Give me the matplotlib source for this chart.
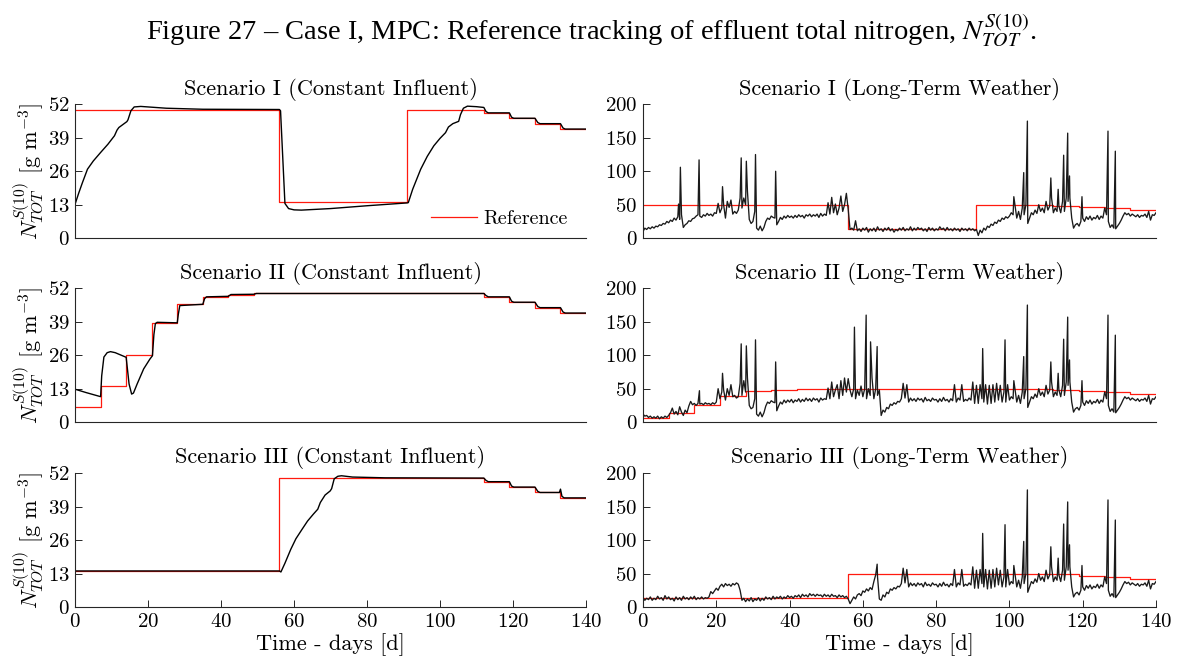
import numpy as np
import matplotlib
matplotlib.use('Agg')
import matplotlib.pyplot as plt

plt.rcParams['font.family'] = ['cmr10', 'DejaVu Serif']
plt.rcParams['mathtext.fontset'] = 'cm'
plt.rcParams['axes.formatter.use_mathtext'] = True
plt.rcParams['axes.unicode_minus'] = False

# --- Reference set-points (step changes) ---
ref1_t = [0, 56, 91, 112, 119, 126, 133]
ref1_v = [50, 14, 50, 48.7, 46.6, 44.5, 42.4]
ref2_t = [0, 7, 14, 21, 28, 35, 42, 49, 112, 119, 126, 133]
ref2_v = [6, 14, 26, 38.5, 45.8, 48.7, 49.6, 50, 48.7, 46.6, 44.5, 42.4]
ref3_t = [0, 56, 112, 119, 126, 133]
ref3_v = [14, 50, 48.7, 46.6, 44.5, 42.4]

# --- Constant influent responses ---
c1_t = [0, 1, 2, 3.4, 5, 7, 9, 10.8, 11.5, 12, 14.2, 14.5, 15.3, 16.2, 18, 25, 35, 56,
        56.3, 57.5, 58.5, 60, 62, 70, 80, 91, 91.3, 92.5, 94.7, 96.5, 98.3, 100, 101.5,
        102.3, 103.5, 105.1, 105.6, 106.4, 107.5, 110, 112, 112.6, 113.2, 119, 119.6,
        120.2, 126, 126.8, 127.4, 133, 133.7, 134.3, 140]
c1_v = [13.2, 17.5, 21.5, 26.8, 30.0, 33.3, 36.5, 39.8, 42, 43, 45.3, 46, 49.5, 51.0, 51.2,
        50.5, 50.1, 50.0, 49.5, 13.5, 11.5, 11.0, 10.9, 11.5, 12.6, 13.7, 13.8, 19, 26.8,
        31.8, 35.9, 38.8, 41, 43.2, 44.5, 45.4, 48, 50.5, 51.3, 51.1, 50.8, 49.2, 48.7,
        48.7, 47, 46.6, 46.6, 44.9, 44.5, 44.5, 42.8, 42.4, 42.4]
c2_t = [0, 3, 7, 7.3, 7.9, 8.8, 9.7, 11, 14, 14.4, 14.8, 15.5, 16, 17, 18.8, 20.5, 21.2,
        21.6, 22, 22.5, 28, 28.3, 28.7, 35, 35.5, 36, 42, 42.7, 49, 49.7, 112, 112.6,
        113.2, 119, 119.6, 120.2, 126, 126.8, 127.4, 133, 133.7, 134.3, 140]
c2_v = [12.8, 11.5, 9.9, 18, 25.3, 27, 27.4, 27, 25.2, 20, 14.8, 10.9, 11.3, 14.8, 20.7,
        24.5, 25.8, 34, 38.3, 38.8, 38.6, 42, 45.3, 45.8, 48, 48.7, 48.9, 49.6, 49.7, 50.0,
        50.0, 49.2, 48.7, 48.7, 47, 46.6, 46.6, 44.9, 44.5, 44.5, 42.8, 42.4, 42.4]
c3_t = [0, 56, 56.4, 57.5, 59.1, 60.5, 62.2, 63.7, 65.3, 66.5, 67.2, 68.5, 69.9, 70.3, 71,
        72, 73, 76, 85, 112, 112.6, 113.2, 119, 119.6, 120.2, 126, 126.8, 127.4, 132.7,
        133.0, 133.4, 134, 140]
c3_v = [14, 14, 13.6, 17, 22.4, 26.5, 30.2, 33.4, 36.1, 38, 40.6, 43.5, 45.1, 46, 49.8,
        50.8, 51.0, 50.5, 50.2, 50.1, 49.2, 48.7, 48.7, 47, 46.6, 46.6, 44.9, 44.5, 44.5,
        45.8, 43, 42.4, 42.4]

# --- Long-term weather responses (half-day samples) ---
w1_early = [10, 15, 13, 16, 14, 17, 15, 18, 17, 20, 19, 22, 21, 25, 23, 27, 25, 30, 27, 32,
            28, 35, 16, 20, 22, 26, 25, 29, 30, 33, 35, 33, 31, 35, 33, 37, 34, 36, 33, 38,
            37, 52, 38, 45, 50, 30, 55, 46, 57, 36, 40, 37, 42, 60, 45, 60, 50, 70, 28, 22,
            25, 40, 15, 12, 18, 11, 16, 25, 30, 28, 33, 31, 30, 20, 25, 31, 28, 33, 30, 34,
            31, 33, 30, 34, 31, 35, 32, 34, 30, 35, 33, 36, 32, 35, 33, 36, 31, 37, 33, 36,
            34, 53, 36, 61, 38, 51, 35, 45, 63, 40, 50, 67, 43, 13, 15, 12, 26, 11, 14, 10,
            15, 12, 16, 9, 14, 11, 15, 10, 17, 12, 14, 10, 15, 12, 16, 11, 14, 9, 13, 11,
            15, 12, 16, 11, 14, 12, 17, 11, 15, 12, 16, 13, 15, 11, 14, 10, 16, 12, 15, 11,
            14, 12, 17, 13, 15, 11, 16, 12, 14, 11, 15, 12, 14, 10, 15, 12, 14, 11, 15, 12,
            14, 11, 13, 4, 12, 8, 15, 12, 18, 16, 21, 19, 24, 22, 27, 25, 30, 28, 32, 30]
w2_early = [12, 9, 10, 7, 9, 6, 8, 6, 9, 5, 8, 6, 9, 7, 10, 14, 21, 12, 16, 11,
            23, 15, 10, 18, 14, 24, 31, 26, 28, 25, 28, 27, 28, 26, 29, 27, 28, 26, 29, 27,
            30, 50, 35, 45, 48, 33, 50, 40, 56, 38, 40, 36, 38, 58, 40, 62, 45, 66, 25, 20,
            22, 35, 12, 9, 15, 8, 14, 24, 30, 28, 32, 30, 29, 17, 24, 30, 27, 33, 29, 33,
            30, 34, 29, 33, 31, 35, 30, 34, 31, 36, 32, 35, 31, 36, 33, 35, 30, 36, 33, 35,
            34, 51, 35, 60, 38, 48, 56, 35, 62, 40, 66, 45, 65, 48, 38, 50, 35, 48, 40, 54,
            38, 50, 35, 50, 40, 66, 35, 50, 40, 48]
w3_early = [14, 10, 13, 11, 15, 10, 13, 11, 16, 12, 14, 10, 17, 12, 15, 11, 13, 9, 15, 11,
            14, 10, 16, 12, 14, 11, 15, 12, 16, 11, 14, 12, 15, 12, 14, 13, 15, 23, 20, 24,
            28, 25, 31, 34, 30, 35, 32, 34, 31, 35, 33, 36, 34, 25, 10, 13, 8, 12, 9, 14,
            8, 12, 10, 14, 9, 13, 10, 15, 12, 14, 11, 16, 12, 15, 13, 16, 12, 15, 13, 17,
            14, 16, 13, 17, 15, 18, 14, 19, 16, 18, 15, 20, 17, 19, 16, 19, 17, 18, 15, 19,
            16, 18, 15, 19, 16, 17, 14, 18, 15, 17, 14, 16, 12, 5, 10, 15, 12, 18, 20, 17,
            24, 22, 27, 24, 29, 26, 38, 48, 45, 12]
w23_mid = [10, 18, 15, 22, 20, 27, 25, 29, 27, 31, 30, 35, 58, 36, 56, 30, 36, 32, 35, 31,
           36, 33, 35, 30, 37, 32, 34, 31, 36, 33, 34, 30, 35, 31, 37, 32, 34, 30, 35, 32,
           56, 30, 36, 33, 56, 31, 34, 32, 36, 33, 60, 28, 55, 28, 56, 35, 30, 56, 27, 55,
           28, 56, 30, 58, 33, 55, 30, 45, 30, 56]
w_late = [33, 38, 35, 50, 30, 40, 28, 45, 35, 50, 22, 30, 38, 35, 42, 37, 50, 40, 45, 38,
          55, 42, 48, 60, 38, 45, 40, 48, 38, 55, 40, 60, 55, 60, 30, 15, 20, 22, 18, 25,
          30, 25, 32, 28, 33, 27, 31, 29, 34, 28, 33, 30, 45, 35, 25, 16, 20, 15, 14, 18,
          22, 27, 33, 38, 35, 37, 33, 36, 34, 32, 35, 31, 34, 33, 36, 31, 40, 27, 35, 34,
          38]

# short peaks (rain events)
pk1_t = [9.7, 10.2, 15.3, 21.7, 26.8, 28.2, 30.7, 36.2]
pk1_v = [51, 106, 117, 77, 120, 115, 125, 100]
pk2_t = [15.4, 21.7, 26.8, 28.2, 30.7, 36.2, 57.7, 60.9, 62.1, 63.9]
pk2_v = [47, 73, 117, 114, 123, 90, 142, 160, 120, 113]
pk3_t = [63.9]
pk3_v = [64]
pk23_t = [92.7, 98.8]
pk23_v = [110, 123]
pk_late_t = [101.2, 103.9, 104.9, 111.3, 113.3, 114.8, 115.9, 116.4, 119.8, 126.9, 128.9]
pk_late_v = [62, 98, 175, 90, 73, 124, 157, 93, 62, 160, 130]


def series(parts):
    # parts: list of (start_day, half-day samples, peak days, peak values)
    t, v = [], []
    for start, vals, pt, pv in parts:
        t += list(start + 0.5 * np.arange(len(vals))) + list(pt)
        v += list(vals) + list(pv)
    t, v = np.array(t), np.array(v)
    o = np.argsort(t, kind='stable')
    return t[o], v[o]


def steps(tt, vv):
    return list(tt) + [140], list(vv) + [vv[-1]]


w1 = series([(0, w1_early, pk1_t, pk1_v), (100, w_late, pk_late_t, pk_late_v)])
w2 = series([(0, w2_early, pk2_t, pk2_v), (65, w23_mid, pk23_t, pk23_v),
             (100, w_late, pk_late_t, pk_late_v)])
w3 = series([(0, w3_early, pk3_t, pk3_v), (65, w23_mid, pk23_t, pk23_v),
             (100, w_late, pk_late_t, pk_late_v)])

left = [(c1_t, c1_v, ref1_t, ref1_v, 'Scenario I (Constant Influent)'),
        (c2_t, c2_v, ref2_t, ref2_v, 'Scenario II (Constant Influent)'),
        (c3_t, c3_v, ref3_t, ref3_v, 'Scenario III (Constant Influent)')]
right = [(w1, ref1_t, ref1_v, 'Scenario I (Long-Term Weather)'),
         (w2, ref2_t, ref2_v, 'Scenario II (Long-Term Weather)'),
         (w3, ref3_t, ref3_v, 'Scenario III (Long-Term Weather)')]

fig = plt.figure(figsize=(11.82, 6.69), dpi=100)
bottoms = [0.644, 0.369, 0.0927]
red = '#ff1a0f'


def style(ax, last):
    for s in ['top', 'right']:
        ax.spines[s].set_visible(False)
    for s in ['left', 'bottom']:
        ax.spines[s].set_color('#262626')
        ax.spines[s].set_linewidth(0.8)
    ax.set_xlim(0, 140)
    ax.tick_params(direction='in', length=5, width=0.7, labelsize=15, colors='#262626',
                   labelcolor='black', pad=4)
    if last:
        ax.set_xticks(range(0, 141, 20))
        ax.set_xlabel('Time - days [d]', fontsize=16, labelpad=2)
    else:
        ax.set_xticks([])


for i in range(3):
    ct, cv, rt, rv, title = left[i]
    ax = fig.add_axes([0.0635, bottoms[i], 0.4323, 0.2])
    sx, sy = steps(rt, rv)
    ax.step(sx, sy, where='post', color=red, lw=0.9, label='Reference')
    ax.plot(ct, cv, color='black', lw=1.0)
    ax.set_ylim(0, 52)
    ax.set_yticks([0, 13, 26, 39, 52])
    ax.set_title(title, fontsize=16, pad=7)
    ax.set_ylabel(r'$N_{TOT}^{S(10)}$ [g m$^{-3}$]', fontsize=16, labelpad=2)
    style(ax, i == 2)
    if i == 0:
        ax.legend(loc='lower right', bbox_to_anchor=(1.0, -0.06), frameon=False,
                  fontsize=14.5, handlelength=2.3, handletextpad=0.3)

    (wt, wv), rt, rv, title = right[i]
    ax = fig.add_axes([0.544, bottoms[i], 0.434, 0.2])
    sx, sy = steps(rt, rv)
    ax.step(sx, sy, where='post', color=red, lw=0.9)
    ax.plot(wt, wv, color='#1a1a1a', lw=0.95)
    ax.set_ylim(0, 200)
    ax.set_yticks([0, 50, 100, 150, 200])
    ax.set_title(title, fontsize=16, pad=7)
    style(ax, i == 2)

fig.text(0.5, 0.955,
         'Figure 27 \u2013 Case I, MPC: Reference tracking of effluent total nitrogen, '
         r'$N_{TOT}^{S(10)}$.',
         family='Liberation Serif', math_fontfamily='stix', fontsize=20.5,
         ha='center', va='center')

fig.savefig('out.png', dpi=100)
